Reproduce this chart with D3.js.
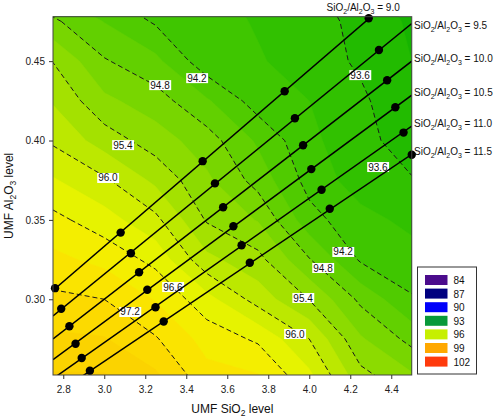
<!doctype html>
<html>

<head>
    <meta charset="utf-8">
    <style>
        body {
            margin: 0;
            background: #fff;
        }

        svg {
            display: block;
            font-family: "Liberation Sans", Arial, sans-serif;
        }

        .axis text {
            font-size: 10px;
            fill: #222;
        }

        .axis line {
            stroke: #333;
        }

        .axis path {
            display: none;
        }

        .major {
            fill: none;
            stroke: #1a1a1a;
            stroke-width: 1px;
            stroke-dasharray: 5, 3;
        }

        .ratio-line {
            stroke: #000;
            stroke-width: 1.5px;
        }

        .level-label,
        .ratio-label,
        .legend text {
            font-size: 10px;
            fill: #111;
        }
    </style>
    <script src="https://d3js.org/d3.v7.min.js"></script>
</head>

<body>
    <script>
        // response surface (rows = Al2O3 levels, cols = SiO2 levels)
        const gridSiO2 = [2.75, 3.0, 3.25, 3.5, 3.75, 4.0, 4.25, 4.5]
        const gridAl2O3 = [0.25, 0.275, 0.30, 0.325, 0.35, 0.375, 0.40, 0.425, 0.45, 0.475, 0.50]
        const response = [
            [97.85, 97.85, 97.58, 97.02, 96.95, 96.40, 95.53, 95.18],
            [97.56, 97.52, 97.23, 96.78, 96.55, 96.00, 95.14, 94.70],
            [97.27, 97.20, 96.88, 96.41, 95.87, 95.39, 94.73, 94.23],
            [96.98, 96.81, 96.51, 95.78, 95.50, 94.82, 94.16, 94.02],
            [96.69, 96.43, 96.08, 95.37, 95.08, 94.31, 94.00, 93.82],
            [96.33, 96.05, 95.63, 95.16, 94.68, 94.09, 93.75, 93.62],
            [95.95, 95.56, 95.25, 94.94, 94.45, 93.97, 93.70, 93.45],
            [95.67, 95.17, 94.94, 94.54, 94.05, 93.90, 93.66, 93.35],
            [95.39, 94.83, 94.58, 94.00, 93.93, 93.76, 93.55, 93.30],
            [94.86, 94.49, 94.16, 94.03, 93.87, 93.75, 93.50, 93.25],
            [94.33, 94.10, 93.90, 93.95, 93.80, 93.65, 93.35, 93.20]
        ]

        // fill bands and labelled (dashed) contour levels
        const fillLevels = [93.0, 93.3, 93.6, 93.9, 94.2, 94.5, 94.8, 95.1, 95.4, 95.7, 96.0, 96.3, 96.6, 96.9, 97.2, 97.5, 97.8]
        const fillColors = ["#16b400", "#22bb00", "#31c100", "#3fc600", "#50cb00", "#62d000", "#78d600", "#8cdb00",
            "#a4e100", "#bce800", "#d2ee00", "#e6f300", "#f4ee00", "#fae400", "#fcda00", "#fbd300", "#facd00"]
        const majorLevels = [93.6, 94.2, 94.8, 95.4, 96.0, 96.6, 97.2]

        // contour labels: level, SiO2, Al2O3
        const levelLabels = [
            [94.8, 3.272, 0.4349], [94.2, 3.452, 0.4393], [95.4, 3.091, 0.3971], [96.0, 3.018, 0.3764],
            [93.6, 4.248, 0.4412], [93.6, 4.335, 0.3833], [96.6, 3.335, 0.3077], [97.2, 3.126, 0.2920],
            [94.2, 4.165, 0.3298], [94.8, 4.067, 0.3197], [95.4, 3.970, 0.3008], [96.0, 3.930, 0.2781]
        ]

        // SiO2/Al2O3 ratio lines and their design points
        const ratios = [9, 9.5, 10, 10.5, 11, 11.5]
        const pointSiO2 = [
            [2.76, 3.08, 3.48, 3.88, 4.29],
            [2.79, 3.13, 3.54, 3.93, 4.34],
            [2.83, 3.17, 3.58, 3.97, 4.38],
            [2.86, 3.21, 3.63, 4.01, 4.42],
            [2.89, 3.25, 3.67, 4.06, 4.46],
            [2.93, 3.29, 3.71, 4.10, 4.50]
        ]
        const pointAl2O3 = [
            [0.307, 0.342, 0.387, 0.431, 0.477],
            [0.294, 0.329, 0.373, 0.414, 0.457],
            [0.283, 0.317, 0.358, 0.397, 0.438],
            [0.272, 0.306, 0.346, 0.382, 0.421],
            [0.263, 0.295, 0.334, 0.369, 0.405],
            [0.255, 0.286, 0.323, 0.357, 0.391]
        ]

        const xTicks = [2.8, 3.0, 3.2, 3.4, 3.6, 3.8, 4.0, 4.2, 4.4]
        const yTicks = [0.30, 0.35, 0.40, 0.45]

        const legendValues = [84, 87, 90, 93, 96, 99, 102]
        const legendColors = ["#4b0c8c", "#00007f", "#0000fa", "#08993a", "#c6ef00", "#ffa800", "#ff3a0c"]

        const W = 495, H = 420
        const plot = { left: 53, right: 411.75, top: 16.7, bottom: 375 }

        const svg = d3.select("body").append("svg")
            .attr("width", W)
            .attr("height", H)

        const x = d3.scaleLinear([2.75, 4.5], [plot.left, plot.right])
        const y = d3.scaleLinear([0.2523, 0.478], [plot.bottom, plot.top])

        svg.append("clipPath").attr("id", "plot-clip")
            .append("rect")
            .attr("x", plot.left).attr("y", plot.top)
            .attr("width", plot.right - plot.left)
            .attr("height", plot.bottom - plot.top)

        // contours
        const nx = gridSiO2.length, ny = gridAl2O3.length
        const xStep = gridSiO2[1] - gridSiO2[0]
        const yStep = gridAl2O3[1] - gridAl2O3[0]
        const values = response.flat()

        const gridProj = d3.geoTransform({
            point: function (px, py) {
                this.stream.point(x(gridSiO2[0] + (px - 0.5) * xStep), y(gridAl2O3[0] + (py - 0.5) * yStep))
            }
        })
        const path = d3.geoPath(gridProj)

        const plotG = svg.append("g").attr("clip-path", "url(#plot-clip)")

        const bands = d3.contours().size([nx, ny]).thresholds(fillLevels)(values)
        plotG.append("g")
            .selectAll("path")
            .data(bands)
            .enter()
            .append("path")
            .attr("d", path)
            .attr("fill", (d, i) => fillColors[i])
            .attr("stroke", (d, i) => fillColors[i])
            .attr("stroke-width", 0.5)

        const majors = d3.contours().size([nx, ny]).thresholds(majorLevels)(values)
        plotG.append("g")
            .selectAll("path")
            .data(majors)
            .enter()
            .append("path")
            .attr("class", "major")
            .attr("d", path)

        // labels on contour lines
        const lab = plotG.append("g")
            .selectAll("g")
            .data(levelLabels)
            .enter()
            .append("g")
            .attr("transform", d => `translate(${x(d[1])},${y(d[2])})`)
        const labRect = lab.append("rect").attr("fill", "#fff")
        const labText = lab.append("text")
            .attr("class", "level-label")
            .attr("text-anchor", "middle")
            .attr("dy", "0.35em")
            .text(d => d[0].toFixed(1))
        labText.each(function (d, i) {
            const b = this.getBBox()
            d3.select(labRect.nodes()[i])
                .attr("x", b.x - 1).attr("y", b.y + 0.5)
                .attr("width", b.width + 2).attr("height", b.height - 1)
        })

        // ratio lines
        plotG.append("g")
            .selectAll("line")
            .data(ratios)
            .enter()
            .append("line")
            .attr("class", "ratio-line")
            .attr("x1", r => x(2.75))
            .attr("y1", r => y(2.75 / r))
            .attr("x2", r => x(4.5))
            .attr("y2", r => y(4.5 / r))

        // design points
        const pts = []
        ratios.forEach((r, i) => pointSiO2[i].forEach((s, j) => pts.push([s, pointAl2O3[i][j]])))
        svg.append("g")
            .selectAll("circle")
            .data(pts)
            .enter()
            .append("circle")
            .attr("cx", d => x(d[0]))
            .attr("cy", d => y(d[1]))
            .attr("r", 4.2)
            .attr("fill", "#000")

        // frame and axes
        svg.append("rect")
            .attr("x", plot.left).attr("y", plot.top)
            .attr("width", plot.right - plot.left)
            .attr("height", plot.bottom - plot.top)
            .attr("fill", "none")
            .attr("stroke", "#444")
            .attr("stroke-width", 1)

        svg.append("g")
            .attr("class", "axis")
            .attr("transform", `translate(0,${plot.bottom})`)
            .call(d3.axisBottom(x).tickValues(xTicks).tickFormat(d3.format(".1f")).tickSize(4).tickPadding(7))

        svg.append("g")
            .attr("class", "axis")
            .attr("transform", `translate(${plot.left},0)`)
            .call(d3.axisLeft(y).tickValues(yTicks).tickFormat(d3.format(".2f")).tickSize(4).tickPadding(4))

        // text with subscripts
        const chem = (sel, parts, subSize, shift) => {
            parts.forEach((p, i) => {
                const t = sel.append("tspan").text(p[0])
                if (p[1]) t.attr("font-size", subSize).attr("dy", shift)
                else if (i > 0 && parts[i - 1][1]) t.attr("dy", -shift)
            })
        }
        const ratioParts = r => [["SiO", 0], ["2", 1], ["/Al", 0], ["2", 1], ["O", 0], ["3", 1], [" = " + r.toFixed(1), 0]]

        ratios.forEach((r, i) => {
            const t = svg.append("text").attr("class", "ratio-label")
            if (i === 0) {
                t.attr("x", x(0.478 * r) - 8).attr("y", 11).attr("text-anchor", "middle")
            } else {
                t.attr("x", 414).attr("y", Math.max(y(4.5 / r) + 1, 29))
            }
            chem(t, ratioParts(r), 7, 2.5)
        })

        const xl = svg.append("text")
            .attr("x", (plot.left + plot.right) / 2)
            .attr("y", 413)
            .attr("text-anchor", "middle")
            .attr("font-size", 12)
            .attr("fill", "#111")
        chem(xl, [["UMF SiO", 0], ["2", 1], [" level", 0]], 8.5, 3)

        const yl = svg.append("text")
            .attr("transform", `translate(13,${(plot.top + plot.bottom) / 2}) rotate(-90)`)
            .attr("text-anchor", "middle")
            .attr("font-size", 12)
            .attr("fill", "#111")
        chem(yl, [["UMF Al", 0], ["2", 1], ["O", 0], ["3", 1], [" level", 0]], 8.5, 3)

        // legend
        const legend = svg.append("g").attr("class", "legend")
        legend.append("rect")
            .attr("x", 417.5).attr("y", 267)
            .attr("width", 59).attr("height", 107)
            .attr("fill", "#fff")
            .attr("stroke", "#333")
        const item = legend.selectAll("g")
            .data(legendValues)
            .enter()
            .append("g")
            .attr("transform", (d, i) => `translate(425,${275 + i * 13.6})`)
        item.append("rect")
            .attr("width", 22.5)
            .attr("height", 10)
            .attr("fill", (d, i) => legendColors[i])
        item.append("text")
            .attr("x", 28.5)
            .attr("y", 9)
            .text(d => d)
    </script>
</body>

</html>
